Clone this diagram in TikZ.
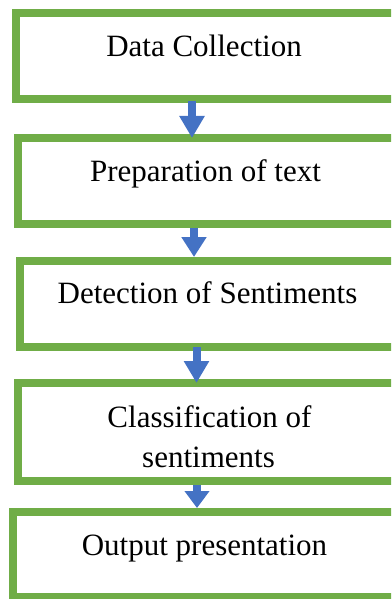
\documentclass[tikz,border=0pt]{standalone}
\usepackage{fontspec}
\setmainfont{Liberation Serif}
\usetikzlibrary{arrows.meta}
\definecolor{stagegreen}{HTML}{70AD47}
\definecolor{flowblue}{HTML}{4472C4}
\begin{document}
\begin{tikzpicture}[x=1pt,y=-1pt,
  stage/.style={draw=stagegreen, line width=8pt, fill=none, rectangle,
    inner sep=0pt},
  label/.style={anchor=base, inner sep=0pt, font=\fontsize{31}{40}\selectfont},
  flow/.style={draw=flowblue, line width=8pt,
    -{Triangle[width=24pt,length=#1]}},
  flow/.default=22pt]
\useasboundingbox (0,0) rectangle (391,599);
\clip (0,0) rectangle (391,599);

% process stages (right side runs past the page edge)
\node[stage, minimum width=390pt, minimum height=86pt] (b1) at (211,56) {};
\node[stage, minimum width=388pt, minimum height=86pt] (b2) at (212,181) {};
\node[stage, minimum width=386pt, minimum height=86pt] (b3) at (213,304) {};
\node[stage, minimum width=388pt, minimum height=98pt] (b4) at (212,432) {};
\node[stage, minimum width=393pt, minimum height=85pt] (b5) at (209.5,554.5) {};

% stage titles
\node[label] (t1) at (204,57) {Data Collection};
\node[label] (t2) at (205.5,181) {Preparation of text};
\node[label] (t3) at (207.5,303) {Detection of Sentiments};
\node[label] (t4a) at (209.5,427) {Classification of};
\node[label] (t4b) at (208.5,467) {sentiments};
\node[label] (t5) at (204.5,555) {Output presentation};

% arrow columns
\coordinate (c1) at (192,0);
\coordinate (c2) at (194,0);
\coordinate (c3) at (196.5,0);
\coordinate (c4) at (197,0);

% block arrows between stages
\draw[flow, shorten <=-2pt, shorten >=-4pt] (b1.south -| c1) -- (b2.north -| c1);
\draw[flow=20pt] (b2.south -| c2) -- (b3.north -| c2);
\draw[flow, shorten <=-4pt, shorten >=-4pt] (b3.south -| c3) -- (b4.north -| c3);
\draw[flow=17pt] (b4.south -| c4) -- (b5.north -| c4);
\end{tikzpicture}
\end{document}
